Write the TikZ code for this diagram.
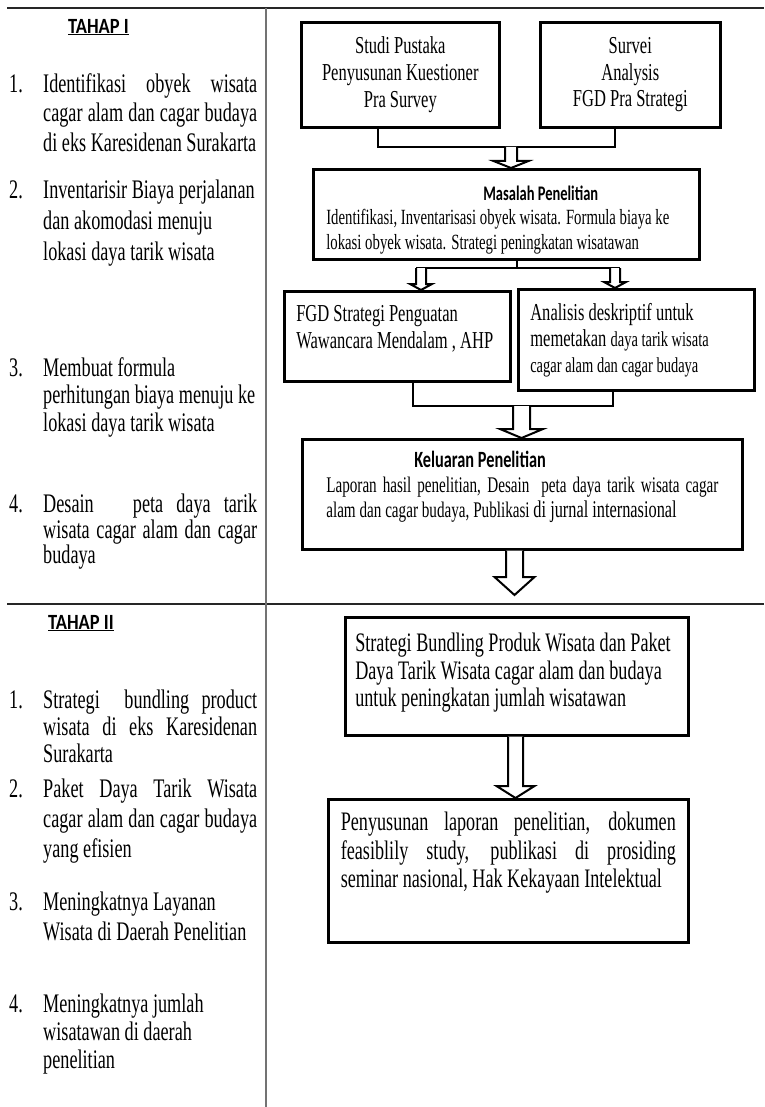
\documentclass[tikz,border=0pt]{standalone}
\usepackage{fontspec}
\setmainfont[FakeStretch=0.68]{Liberation Serif}
\newfontfamily\headfont[FakeStretch=0.7]{Carlito}
\newfontfamily\tahapfont[FakeStretch=0.85]{Carlito}
\usetikzlibrary{calc}

\newcommand{\jline}[1]{\makebox[\hsize][s]{#1}}
\newcommand{\padabove}[1]{\rule{0pt}{#1}}
\newcommand{\padbelow}[1]{\rule[-#1]{0pt}{#1}}
\newcommand{\hollowarrow}[5]{%
  \draw[hollow] let \p1=(#1), \p2=(#2) in
    (\x2-#3,\y1) -- (\x2-#3,\y2+#5) -- (\x2-#4,\y2+#5) -- (\x2,\y2)
    -- (\x2+#4,\y2+#5) -- (\x2+#3,\y2+#5) -- (\x2+#3,\y1);}

\begin{document}
\begin{tikzpicture}[x=1pt,y=-1pt,
  rule/.style={line width=1.6pt,black!85},
  box/.style={draw,line width=2.6pt,anchor=north west,inner ysep=0pt},
  link/.style={line width=2.2pt},
  hollow/.style={line width=2pt,fill=white,line join=miter},
  listnum/.style={anchor=base west,inner sep=0pt,font=\fontsize{26.8}{29}\selectfont},
  listitem/.style={anchor=north west,inner sep=0pt,text width=214pt,align=flush left,
    font=\fontsize{26.8}{#1}\selectfont},
  listitem/.default=29,
  heading/.style={anchor=north west,inner sep=0pt,font=\tahapfont\bfseries\fontsize{21.7}{26}\selectfont}]

\useasboundingbox (0,0) rectangle (764,1107);

\draw[rule] (7,8) -- (764,8);
\draw[rule] (7,604) -- (764,604);
\draw[rule,black!55] (266,8) -- (266,1107);

\node[heading] (tahap1) at (68,19) {\underline{TAHAP I}};
\node[listitem=29.5] (item11) at (43,73) {\jline{Identifikasi obyek wisata}\\
  \jline{cagar alam dan cagar budaya}\\di eks Karesidenan Surakarta};
\node[listnum] (num11) at ($(item11.base west)+(-34,0)$) {1.};
\node[listitem=31] (item12) at (43,180) {Inventarisir Biaya perjalanan\\
  dan akomodasi menuju\\lokasi daya tarik wisata};
\node[listnum] (num12) at ($(item12.base west)+(-34,0)$) {2.};
\node[listitem=27.5] (item13) at (43,357) {Membuat formula\\
  perhitungan biaya menuju ke\\lokasi daya tarik wisata};
\node[listnum] (num13) at ($(item13.base west)+(-34,0)$) {3.};
\node[listitem=25.5] (item14) at (43,494) {\jline{Desain\ \ \ peta daya tarik}\\
  \jline{wisata cagar alam dan cagar}\\budaya};
\node[listnum] (num14) at ($(item14.base west)+(-34,0)$) {4.};

\node[heading] (tahap2) at (48,615) {\underline{TAHAP II}};
\node[listitem=27] (item21) at (43,690) {\jline{Strategi\ \ bundling product}\\
  \jline{wisata di eks Karesidenan}\\Surakarta};
\node[listnum] (num21) at ($(item21.base west)+(-34,0)$) {1.};
\node[listitem=30] (item22) at (43,779) {\jline{Paket Daya Tarik Wisata}\\
  \jline{cagar alam dan cagar budaya}\\yang efisien};
\node[listnum] (num22) at ($(item22.base west)+(-34,0)$) {2.};
\node[listitem=30] (item23) at (43,892) {Meningkatnya Layanan\\
  Wisata di Daerah Penelitian};
\node[listnum] (num23) at ($(item23.base west)+(-34,0)$) {3.};
\node[listitem=28] (item24) at (43,994) {Meningkatnya jumlah\\
  wisatawan di daerah\\penelitian};
\node[listnum] (num24) at ($(item24.base west)+(-34,0)$) {4.};

\node[box,minimum width=198pt,minimum height=105pt,align=center,
  font=\fontsize{24.3}{26.7}\selectfont] (pustaka) at (300,21)
  {Studi Pustaka\\Penyusunan Kuestioner\\Pra Survey};
\node[box,minimum width=180pt,minimum height=105pt,align=center,
  font=\fontsize{24.3}{26.7}\selectfont] (survei) at (539,21)
  {Survei\\Analysis\\FGD Pra Strategi};

\node[box,minimum width=386pt,minimum height=90pt,text width=360pt,inner xsep=13pt,
  align=flush left,font=\fontsize{21.7}{24.5}\selectfont] (masalah) at (312,168)
  {\padabove{25.7pt}{\headfont\bfseries\fontsize{20.7}{24.5}\selectfont\hspace*{157pt}Masalah Penelitian}\\
  Identifikasi, Inventarisasi obyek wisata. Formula biaya ke\\
  lokasi obyek wisata. Strategi peningkatan wisatawan};

\node[box,minimum width=226pt,minimum height=90pt,text width=202pt,inner xsep=12pt,
  align=flush left,font=\fontsize{24.3}{26.7}\selectfont] (fgd) at (283,290)
  {FGD Strategi Penguatan\\\mbox{Wawancara Mendalam , AHP}\padbelow{18pt}};
\node[box,minimum width=236pt,minimum height=101pt,text width=212pt,inner xsep=12pt,
  align=flush left,font=\fontsize{24.3}{26}\selectfont] (analisis) at (517,288)
  {Analisis deskriptif untuk\\memetakan {\fontsize{21.3}{26}\selectfont daya tarik wisata}\\
  {\fontsize{21.3}{24.5}\selectfont cagar alam dan cagar budaya}};

\node[box,minimum width=440pt,minimum height=110pt,text width=392pt,inner xsep=24pt,
  align=flush left,font=\fontsize{22.3}{25}\selectfont] (keluaran) at (301,438)
  {{\headfont\bfseries\fontsize{23.3}{25}\selectfont\hspace*{88pt}Keluaran Penelitian}\\
  \jline{Laporan hasil penelitian, Desain\ \ peta daya tarik wisata cagar}\\
  alam dan cagar budaya, Publikasi {\fontsize{24}{25}\selectfont di jurnal internasional}\padbelow{19pt}};

\node[box,minimum width=343pt,minimum height=118pt,text width=323pt,inner xsep=10pt,
  align=flush left,font=\fontsize{26.7}{27.7}\selectfont] (strategi) at (344,616)
  {\mbox{Strategi Bundling Produk Wisata dan Paket}\\Daya Tarik Wisata cagar alam dan budaya\\
  untuk peningkatan jumlah wisatawan\padbelow{12.8pt}};
\node[box,minimum width=360pt,minimum height=143pt,text width=335pt,inner xsep=12.5pt,
  align=flush left,font=\fontsize{26.7}{28.8}\selectfont] (penyusunan) at (327,798)
  {\jline{Penyusunan laporan penelitian, dokumen}\\
  \jline{feasiblily study, publikasi di prosiding}\\
  seminar nasional, Hak Kekayaan Intelektual\padbelow{42pt}};

\coordinate (pj) at (378,147);
\coordinate (sj) at (615,147);
\coordinate (mj) at (511,147);
\draw[link] (pj |- pustaka.south) -- (pj) -- (sj) -- (sj |- survei.south);
\hollowarrow{mj}{mj |- masalah.north}{6pt}{17.5pt}{7pt}

\coordinate (mc) at (517,268);
\coordinate (fj) at (421,268);
\coordinate (aj) at (615,268);
\draw[link] (mc |- masalah.south) -- (mc);
\draw[link] ($(fj)+(-5,0)$) -- ($(aj)+(5,0)$);
\hollowarrow{fj}{fj |- fgd.north}{5pt}{11pt}{6pt}
\hollowarrow{aj}{aj |- analisis.north}{5pt}{11pt}{6pt}

\coordinate (fk) at (413,406);
\coordinate (ak) at (613,406);
\coordinate (kj) at (521.5,406);
\draw[link] (fk |- fgd.south) -- (fk) -- (ak) -- (ak |- analisis.south);
\hollowarrow{kj}{kj |- keluaran.north}{8.5pt}{21.5pt}{9pt}

\coordinate (kt) at (514.5,595);
\hollowarrow{kt |- keluaran.south}{kt}{8.5pt}{20pt}{18pt}

\coordinate (sp) at (515.5,760);
\hollowarrow{sp |- strategi.south}{sp |- penyusunan.north}{7.5pt}{19pt}{12pt}
\end{tikzpicture}
\end{document}
